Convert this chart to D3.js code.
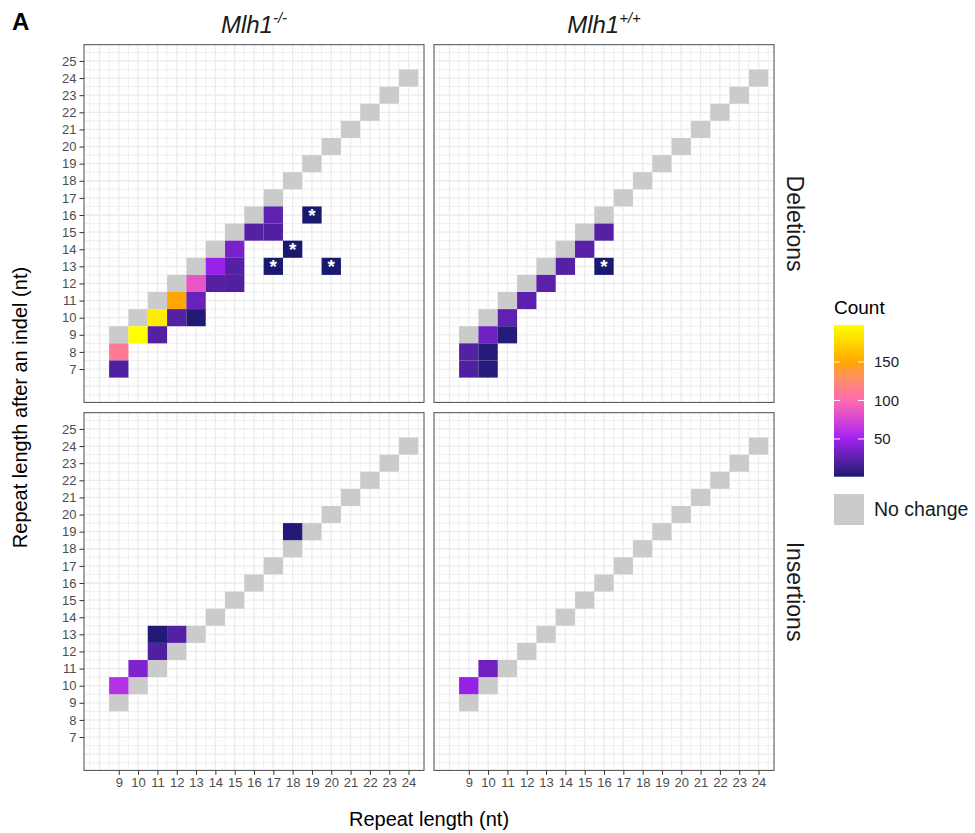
<!DOCTYPE html>
<html>
<head>
<meta charset="utf-8">
<script src="https://cdn.jsdelivr.net/npm/d3@7"></script>
<style>
  html, body { margin: 0; padding: 0; background: #fff; }
  svg { display: block; font-family: "Liberation Sans", Arial, Helvetica, sans-serif; }
</style>
</head>
<body>
<svg id="chart" width="975" height="833"></svg>
<script>
// ---------------- DATA ----------------
const xTickLabels = d3.range(9, 25);          // repeat length (nt)
const yTickLabels = d3.range(7, 26);          // repeat length after indel (nt)
const noChangeLengths = d3.range(9, 25);      // diagonal "No change" cells (x = y)
const genotypes = ["Mlh1 -/-", "Mlh1 +/+"];
const genotypeSup = ["-/-", "+/+"];
const indelTypes = ["Deletions", "Insertions"];

// [repeat length, length after indel, count, starred]
const deletionsMinus = [
  [9, 8, 112, 0], [9, 7, 20, 0],
  [10, 9, 198, 0],
  [11, 10, 188, 0], [11, 9, 22, 0],
  [12, 11, 150, 0], [12, 10, 22, 0],
  [13, 12, 86, 0], [13, 11, 30, 0], [13, 10, 3, 0],
  [14, 13, 48, 0], [14, 12, 22, 0],
  [15, 14, 36, 0], [15, 13, 22, 0], [15, 12, 21, 0],
  [16, 15, 22, 0],
  [17, 16, 26, 0], [17, 15, 21, 0], [17, 13, 1, 1],
  [18, 14, 1, 1],
  [19, 16, 1, 1],
  [20, 13, 1, 1]
];
const deletionsPlus = [
  [9, 8, 22, 0], [9, 7, 20, 0],
  [10, 9, 32, 0], [10, 8, 5, 0], [10, 7, 5, 0],
  [11, 10, 26, 0], [11, 9, 5, 0],
  [12, 11, 25, 0],
  [13, 12, 25, 0],
  [14, 13, 22, 0],
  [15, 14, 24, 0],
  [16, 15, 22, 0], [16, 13, 1, 1]
];
const insertionsMinus = [
  [9, 10, 60, 0],
  [10, 11, 38, 0],
  [11, 12, 20, 0], [11, 13, 4, 0],
  [12, 13, 22, 0],
  [18, 19, 4, 0]
];
const insertionsPlus = [
  [9, 10, 46, 0],
  [10, 11, 32, 0]
];
const legendBreaks = [50, 100, 150];
const countRange = [1, 198];
const paletteColors = ["#191970", "#A020F0", "#FF69B4", "#FFA500", "#FFFF00"];
const noChangeColor = "#CBCBCB";

// ---------------- LAYOUT ----------------
const svg = d3.select("#chart");
const colX = [[84, 424], [434, 774]];
const rowY = [[44.7, 402.4], [412.7, 770.4]];
const xDomain = [7.2, 24.8];
const yDomain = [5.05, 25.95];
const tickCol = "#333333", labCol = "#4D4D4D";

const color = d3.scaleLinear()
  .domain(paletteColors.map((c, i) => countRange[0] + i * (countRange[1] - countRange[0]) / (paletteColors.length - 1)))
  .range(paletteColors)
  .interpolate(d3.interpolateLab)
  .clamp(true);

const facets = [
  { r: 0, c: 0, data: deletionsMinus },
  { r: 0, c: 1, data: deletionsPlus },
  { r: 1, c: 0, data: insertionsMinus },
  { r: 1, c: 1, data: insertionsPlus }
];

facets.forEach(f => {
  const x = d3.scaleLinear().domain(xDomain).range(colX[f.c]);
  const y = d3.scaleLinear().domain(yDomain).range([rowY[f.r][1], rowY[f.r][0]]);
  const g = svg.append("g");
  const [x0, x1] = colX[f.c];
  const [y0, y1] = rowY[f.r];

  g.append("rect").attr("x", x0).attr("y", y0).attr("width", x1 - x0).attr("height", y1 - y0).attr("fill", "#fff");

  // grid: minor (half) and major (integer)
  const xMinor = d3.range(7.5, 25, 1), xMajor = d3.range(8, 25, 1);
  const yMinor = d3.range(5.5, 26, 1), yMajor = d3.range(6, 26, 1);
  g.selectAll(".vminor").data(xMinor).join("line")
    .attr("x1", d => x(d)).attr("x2", d => x(d)).attr("y1", y0).attr("y2", y1)
    .attr("stroke", "#EBEBEB").attr("stroke-width", 0.8);
  g.selectAll(".hminor").data(yMinor).join("line")
    .attr("y1", d => y(d)).attr("y2", d => y(d)).attr("x1", x0).attr("x2", x1)
    .attr("stroke", "#EBEBEB").attr("stroke-width", 0.8);
  g.selectAll(".vmajor").data(xMajor).join("line")
    .attr("x1", d => x(d)).attr("x2", d => x(d)).attr("y1", y0).attr("y2", y1)
    .attr("stroke", "#EBEBEB").attr("stroke-width", 1.3);
  g.selectAll(".hmajor").data(yMajor).join("line")
    .attr("y1", d => y(d)).attr("y2", d => y(d)).attr("x1", x0).attr("x2", x1)
    .attr("stroke", "#EBEBEB").attr("stroke-width", 1.3);

  const cw = x(1) - x(0), ch = y(0) - y(1);
  // no-change diagonal
  g.selectAll(".nc").data(noChangeLengths).join("rect")
    .attr("x", d => x(d - 0.5)).attr("y", d => y(d + 0.5))
    .attr("width", cw).attr("height", ch).attr("fill", noChangeColor);
  // count tiles
  g.selectAll(".tile").data(f.data).join("rect")
    .attr("x", d => x(d[0] - 0.5)).attr("y", d => y(d[1] + 0.5))
    .attr("width", cw).attr("height", ch).attr("fill", d => color(d[2]));
  // stars
  g.selectAll(".star").data(f.data.filter(d => d[3])).join("text")
    .attr("x", d => x(d[0])).attr("y", d => y(d[1]) + 7)
    .attr("text-anchor", "middle").attr("fill", "#fff")
    .attr("font-size", 19).attr("font-weight", "bold").text("*");

  g.append("rect").attr("x", x0).attr("y", y0).attr("width", x1 - x0).attr("height", y1 - y0)
    .attr("fill", "none").attr("stroke", "#4a4a4a").attr("stroke-width", 1);

  if (f.c === 0) {
    const ax = g.append("g").attr("transform", `translate(${x0},0)`)
      .call(d3.axisLeft(y).tickValues(yTickLabels).tickSize(4.5).tickPadding(3).tickFormat(d3.format("d")));
    ax.select(".domain").remove();
    ax.selectAll("line").attr("stroke", tickCol).attr("stroke-width", 1);
    ax.selectAll("text").attr("fill", labCol).attr("font-size", 13).attr("font-family", null);
  }
  if (f.r === 1) {
    const ax = g.append("g").attr("transform", `translate(0,${y1})`)
      .call(d3.axisBottom(x).tickValues(xTickLabels).tickSize(4.5).tickPadding(3).tickFormat(d3.format("d")));
    ax.select(".domain").remove();
    ax.selectAll("line").attr("stroke", tickCol).attr("stroke-width", 1);
    ax.selectAll("text").attr("fill", labCol).attr("font-size", 13).attr("font-family", null);
  }
});

// strip labels (top)
genotypes.forEach((gname, i) => {
  const cx = (colX[i][0] + colX[i][1]) / 2;
  const t = svg.append("text").attr("x", cx).attr("y", 33)
    .attr("text-anchor", "middle").attr("font-size", 24).attr("font-style", "italic").attr("fill", "#1a1a1a");
  t.append("tspan").text(gname.split(" ")[0]);
  t.append("tspan").attr("font-size", 15).attr("dy", -10).text(genotypeSup[i]);
});
// strip labels (right)
indelTypes.forEach((name, i) => {
  const cy = (rowY[i][0] + rowY[i][1]) / 2;
  svg.append("text").attr("transform", `translate(787,${cy}) rotate(90)`)
    .attr("text-anchor", "middle").attr("font-size", 23).attr("fill", "#1a1a1a").text(name);
});

// axis titles
svg.append("text").attr("x", (colX[0][0] + colX[1][1]) / 2).attr("y", 826)
  .attr("text-anchor", "middle").attr("font-size", 20).attr("fill", "#000").text("Repeat length (nt)");
svg.append("text").attr("transform", `translate(27,${(rowY[0][0] + rowY[1][1]) / 2}) rotate(-90)`)
  .attr("text-anchor", "middle").attr("font-size", 20).attr("fill", "#000").text("Repeat length after an indel (nt)");

// panel letter
svg.append("text").attr("x", 12).attr("y", 30).attr("font-size", 24).attr("font-weight", "bold").text("A");

// ---------------- LEGEND ----------------
const lgX = 834, lgW = 30, lgTop = 325, lgBot = 476.7;
svg.append("text").attr("x", lgX).attr("y", 314).attr("font-size", 19).attr("fill", "#000").text("Count");
const defs = svg.append("defs");
const grad = defs.append("linearGradient").attr("id", "cgrad").attr("x1", 0).attr("x2", 0).attr("y1", 1).attr("y2", 0);
d3.range(0, 1.0001, 0.05).forEach(t => {
  grad.append("stop").attr("offset", t).attr("stop-color", color(countRange[0] + t * (countRange[1] - countRange[0])));
});
svg.append("rect").attr("x", lgX).attr("y", lgTop).attr("width", lgW).attr("height", lgBot - lgTop).attr("fill", "url(#cgrad)");
const ly = d3.scaleLinear().domain(countRange).range([lgBot, lgTop]);
legendBreaks.forEach(b => {
  svg.append("line").attr("x1", lgX).attr("x2", lgX + lgW / 5).attr("y1", ly(b)).attr("y2", ly(b)).attr("stroke", "#fff").attr("stroke-width", 1);
  svg.append("line").attr("x1", lgX + lgW * 4 / 5).attr("x2", lgX + lgW).attr("y1", ly(b)).attr("y2", ly(b)).attr("stroke", "#fff").attr("stroke-width", 1);
  svg.append("text").attr("x", lgX + lgW + 10).attr("y", ly(b) + 5.5).attr("font-size", 15).attr("fill", "#1a1a1a").text(b);
});
svg.append("rect").attr("x", lgX).attr("y", 494).attr("width", lgW).attr("height", 31).attr("fill", noChangeColor);
svg.append("text").attr("x", lgX + lgW + 10).attr("y", 516).attr("font-size", 19.5).attr("fill", "#1a1a1a").text("No change");
</script>
</body>
</html>
